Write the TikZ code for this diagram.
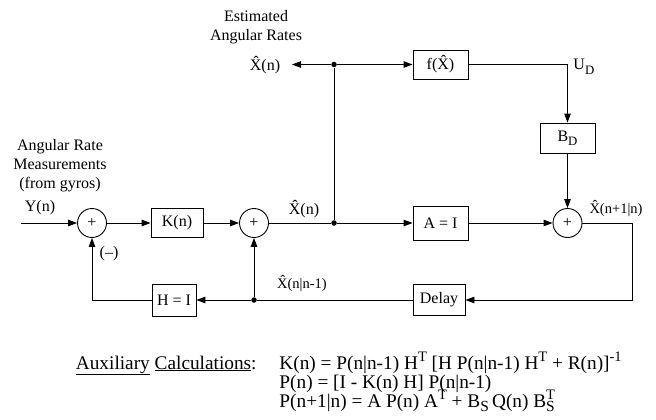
\documentclass[tikz,border=0pt]{standalone}
\usepackage{fontspec}
\setmainfont{Liberation Serif}
\usetikzlibrary{arrows.meta,positioning}

\newcommand\xhat{\^{X}}
\makeatletter
\newcommand\suptx[1]{\raisebox{0.8ex}{\fontsize{\fpeval{0.75*\f@size}}{0}\selectfont #1}}
\newcommand\subtx[1]{\raisebox{-0.55ex}{\fontsize{\fpeval{0.8*\f@size}}{0}\selectfont #1}}
\makeatother

\begin{document}
\begin{tikzpicture}[
  x=1pt, y=-1pt, line width=0.9pt,
  font=\fontsize{16}{19}\selectfont,
  block/.style={draw, align=center, inner sep=0pt, minimum width=55pt, minimum height=30pt},
  summer/.style={draw, circle, inner sep=0pt, minimum size=29pt},
  junction/.style={circle, fill, inner sep=0pt, minimum size=5.5pt},
  lbl/.style={align=center, inner sep=0pt},
  small/.style={font=\fontsize{14.5}{17}\selectfont},
  eqn/.style={anchor=base west, inner sep=0pt, font=\fontsize{19.3}{23}\selectfont},
  arrow/.style={-{Triangle[length=9pt, width=6.5pt]}}
]
\useasboundingbox (0,0) rectangle (656,420);

% forward path
\node[summer] (sumY) at (92,223) {+};
\node[block, minimum width=52pt, minimum height=29pt] (gainK) at (177,223) {K(n)};
\node[summer] (sumX) at (254,223) {+};
\node[junction] (jmid) at (334,223) {};
\node[junction] (jtop) at (334,64.5) {};
\node[block, minimum height=29pt] (fx) at (440.5,64.5) {f(\xhat)};
\node[block] (bd) at (567.5,138) {B\subtx{D}};
\node[block, minimum height=34pt] (ai) at (440.5,223) {A = I};
\node[summer] (sumP) at (567.5,223) {+};
% feedback path
\node[block, minimum width=52pt, minimum height=31pt] (delay) at (439,300) {Delay};
\node[junction] (jlow) at (254,300) {};
\node[block, minimum width=44pt, minimum height=32pt] (hI) at (174,300) {H = I};
\coordinate (meas) at (21,223);
\coordinate (xtip) at (292,64.5);
\coordinate (rturn) at (632,223);

% labels
\node[lbl] (estlbl) at (256,27) {Estimated\\Angular Rates};
\node[lbl, anchor=base] (xout) at (265,70.5) {\xhat(n)};
\node[lbl] (measlbl) at (60,166) {Angular Rate\\Measurements\\(from gyros)};
\node[lbl, anchor=base] (ylbl) at (40,211) {Y(n)};
\node[lbl, anchor=base] (neglbl) at (109,257) {(–)};
\node[lbl, anchor=base] (xmid) at (304,214.5) {\xhat(n)};
\node[lbl, small, anchor=base] (xprior) at (302,288.5) {\xhat(n|n-1)};
\node[lbl, small, anchor=base] (xnext) at (616,213.5) {\xhat(n+1|n)};
\node[lbl, anchor=base west] (udlbl) at (573,70) {U\subtx{D}};

% connectors
\draw[arrow] (meas) -- (sumY);
\draw[arrow] (sumY) -- (gainK);
\draw[arrow] (gainK) -- (sumX);
\draw (sumX) -- (jmid);
\draw[arrow] (jmid) -- (ai);
\draw[arrow] (ai) -- (sumP);
\draw (jmid) -- (jtop);
\draw[arrow] (jtop) -- (xtip);
\draw[arrow] (jtop) -- (fx);
\draw[arrow] (fx) -| (bd);
\draw[arrow] (bd) -- (sumP);
\draw[arrow] (sumP) -- (rturn) |- (delay);
\draw (delay) -- (jlow);
\draw[arrow] (jlow) -- (hI);
\draw[arrow] (jlow) -- (sumX);
\draw[arrow] (hI) -| (sumY);

% auxiliary calculations
\node[eqn, anchor=base east] (auxlbl) at (257,369) {\underline{Auxiliary} \underline{Calculations}:};
\node[eqn] (eqK) at (279,369) {K(n) = P(n|n-1) H\suptx{T} [H P(n|n-1) H\suptx{T} + R(n)]\suptx{-1}};
\node[eqn] (eqP) at (279,388) {P(n) = [I - K(n) H] P(n|n-1)};
\node[eqn] (eqPn) at (279,407) {P(n+1|n) = A P(n) A\suptx{T} + B\subtx{S}\,Q(n) B\rlap{\subtx{S}}\suptx{T}};
\end{tikzpicture}
\end{document}
